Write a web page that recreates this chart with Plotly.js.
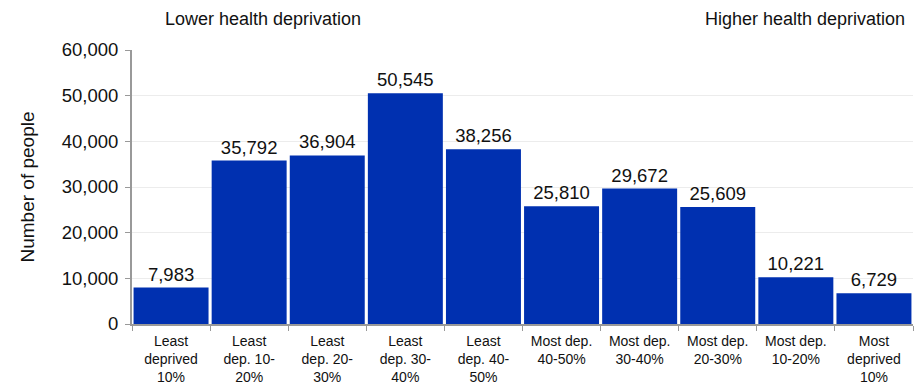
<!DOCTYPE html>
<html><head><meta charset="utf-8">
<script src="https://cdn.plot.ly/plotly-3.0.1.min.js"></script>
<style>body{margin:0;}#c{width:921px;height:388px;}</style>
</head><body><div id="c"></div>
<script>
const categories = ["Least<br>deprived<br>10%","Least<br>dep. 10-<br>20%","Least<br>dep. 20-<br>30%","Least<br>dep. 30-<br>40%","Least<br>dep. 40-<br>50%","Most dep.<br>40-50%","Most dep.<br>30-40%","Most dep.<br>20-30%","Most dep.<br>10-20%","Most<br>deprived<br>10%"];
const people = [7983, 35792, 36904, 50545, 38256, 25810, 29672, 25609, 10221, 6729];
const yTicks = [0, 10000, 20000, 30000, 40000, 50000, 60000];

const font = "Liberation Sans, Arial, sans-serif";
Plotly.newPlot('c', [{
  type: 'bar', x: categories, y: people,
  marker: {color: '#0030B0'},
  text: people.map(v => v.toLocaleString('en-US')),
  textposition: 'outside', cliponaxis: false,
  textfont: {family: font, size: 18.5, color: '#111'},
  hoverinfo: 'none'
}], {
  width: 921, height: 388,
  margin: {l: 132, r: 8, t: 50, b: 64},
  paper_bgcolor: '#fff', plot_bgcolor: '#fff',
  bargap: 0.04,
  showlegend: false,
  font: {family: font, color: '#111'},
  xaxis: {
    tickson: 'boundaries', ticks: 'outside', ticklen: 5, tickcolor: '#999',
    showline: true, linecolor: '#999', linewidth: 2,
    tickfont: {size: 14, family: font, color: '#111'}, tickangle: 0,
    ticklabelstandoff: 3,
    automargin: false
  },
  yaxis: {
    range: [0, 60000], tickvals: yTicks, ticktext: yTicks.map(v => v.toLocaleString('en-US')),
    ticks: 'outside', ticklen: 5, tickcolor: '#999',
    showline: true, linecolor: '#999', linewidth: 2,
    showgrid: true, gridcolor: '#ececec', gridwidth: 1, zeroline: false,
    tickfont: {size: 18.5, family: font, color: '#111'},
    ticklabelstandoff: 3,
    title: {text: 'Number of people', font: {size: 19, family: font, color: '#111'}, standoff: 22},
    automargin: false
  },
  annotations: [
    {text: 'Lower health deprivation', xref: 'paper', yref: 'paper', x: 0.0, y: 1, xanchor: 'left', yanchor: 'bottom', xshift: 31, yshift: 19, showarrow: false, font: {size: 18, family: font, color: '#111'}},
    {text: 'Higher health deprivation', xref: 'paper', yref: 'paper', x: 1, y: 1, xanchor: 'right', yanchor: 'bottom', xshift: -6, yshift: 19, showarrow: false, font: {size: 18, family: font, color: '#111'}}
  ]
}, {displayModeBar: false, staticPlot: true});
</script></body></html>
